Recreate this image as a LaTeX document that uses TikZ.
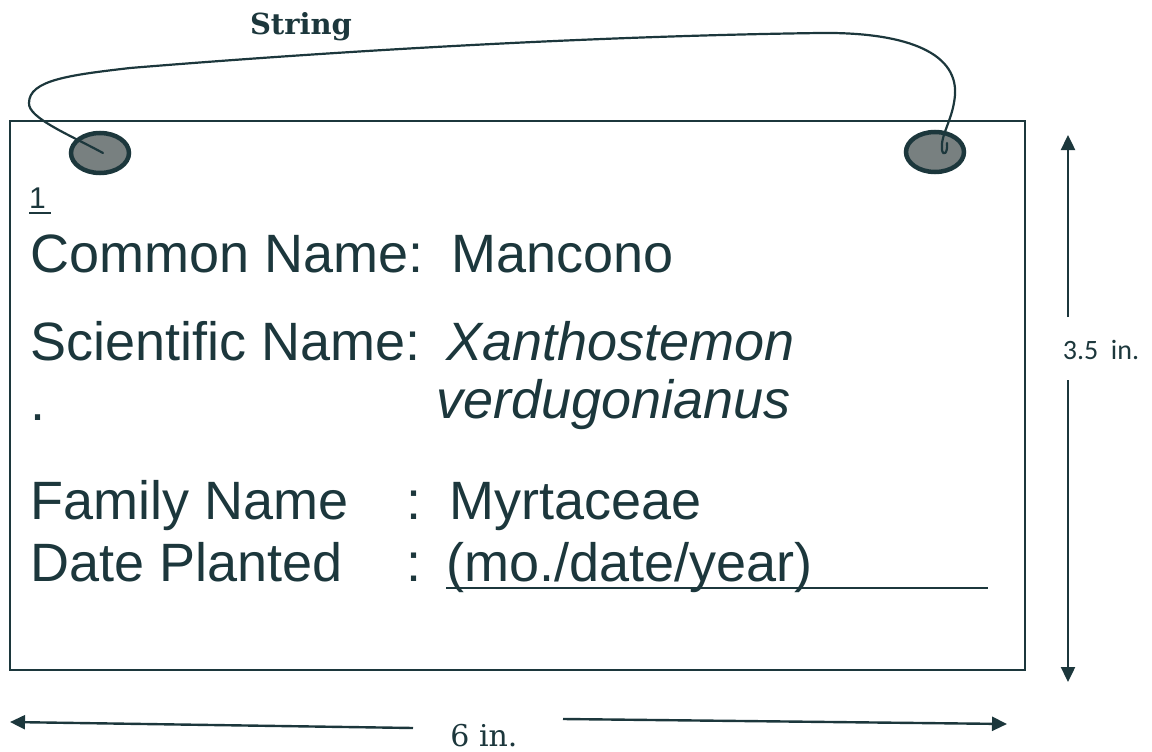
\documentclass[tikz,border=0pt]{standalone}
\usepackage{fontspec}
\setmainfont{Liberation Sans}
\newfontfamily\stringfont{DejaVu Serif}
\newfontfamily\calfont{Carlito}
\usetikzlibrary{arrows.meta,shapes.geometric}
\definecolor{ink}{RGB}{28,55,60}
\definecolor{holefill}{RGB}{120,128,128}
\tikzset{
  label/.style={anchor=base west, inner sep=0pt, text=ink, font=\fontsize{54}{60}\selectfont},
  italabel/.style={label, font=\fontsize{54}{60}\selectfont\itshape},
  hole/.style={ellipse, draw=ink, line width=4.5pt, fill=holefill, minimum width=58pt, minimum height=40pt, inner sep=0pt},
  dimarrow/.style={draw=ink, line width=2.4pt, -{Triangle[length=15pt,width=14pt]}},
  stringline/.style={draw=ink, line width=2.2pt, line cap=round},
}
\begin{document}
\begin{tikzpicture}[x=1pt,y=-1pt]
\useasboundingbox (0,0) rectangle (1152,752);
% tag
\draw[ink, line width=1.8pt] (10,121) rectangle (1025,670);
% holes
\node[hole] (holeL) at (100,153) {};
\node[hole] (holeR) at (935,152) {};
% string
\coordinate (sL) at (103,153);
\coordinate (sR) at (947,143);
\draw[stringline] (sL) .. controls (70,135) and (28,118) .. (29,103)
  .. controls (29,80) and (70,75) .. (130,68)
  .. controls (350,50) and (600,36) .. (820,33)
  .. controls (900,32) and (958,50) .. (955,95)
  .. controls (953,120) and (940,135) .. (942,150)
  .. controls (943,156) and (948,154) .. (sR);
\node[anchor=center, text=ink, font=\stringfont\bfseries\fontsize{29}{32}\selectfont] (stringlbl) at (301,27) {String};
% texts
\node[label, font=\fontsize{30}{34}\selectfont] (num) at (29,208) {1};
\coordinate (numul) at (51,213);
\draw[ink, line width=2pt] (num.base west |- numul) -- (numul);
\node[label] (cn) at (30,272) {Common Name:};
\node[label] (cnv) at (451,272) {Mancono};
\node[label] (sn) at (30,360) {Scientific Name:};
\node[italabel] (snv1) at (446,360) {Xanthostemon};
\node[label] (dot) at (30,420) {.};
\node[italabel] (snv2) at (436,418) {verdugonianus};
\node[label] (fn) at (30,519) {Family Name};
\node[label] (fnc) at (406,519) {:};
\node[label] (fnv) at (449,519) {Myrtaceae};
\node[label] (dp) at (30,581) {Date Planted};
\node[label] (dpc) at (406,581) {:};
\node[label] (dpv) at (446,581) {(mo./date/year)};
\coordinate (ulend) at (988,588);
\draw[ink, line width=2.8pt] (dpv.base west |- ulend) -- (ulend);
% height dimension
\node[anchor=center, text=ink, font=\calfont\fontsize{28}{32}\selectfont] (hdim) at (1101,350) {3.5\ \ in.};
\coordinate (hTopS) at (1068,317);
\coordinate (hTop) at (1068,135);
\coordinate (hBotS) at (1068,380);
\coordinate (hBot) at (1068,682);
\draw[dimarrow] (hTopS) -- (hTop);
\draw[dimarrow] (hBotS) -- (hBot);
% width dimension
\node[anchor=base, inner sep=0pt, text=ink, font=\stringfont\fontsize{30}{34}\selectfont] (wdim) at (484,746) {6 in.};
\coordinate (wLS) at (413,728);
\coordinate (wL) at (10,722);
\coordinate (wRS) at (563,719);
\coordinate (wR) at (1007,724);
\draw[dimarrow] (wLS) -- (wL);
\draw[dimarrow] (wRS) -- (wR);
\end{tikzpicture}
\end{document}
